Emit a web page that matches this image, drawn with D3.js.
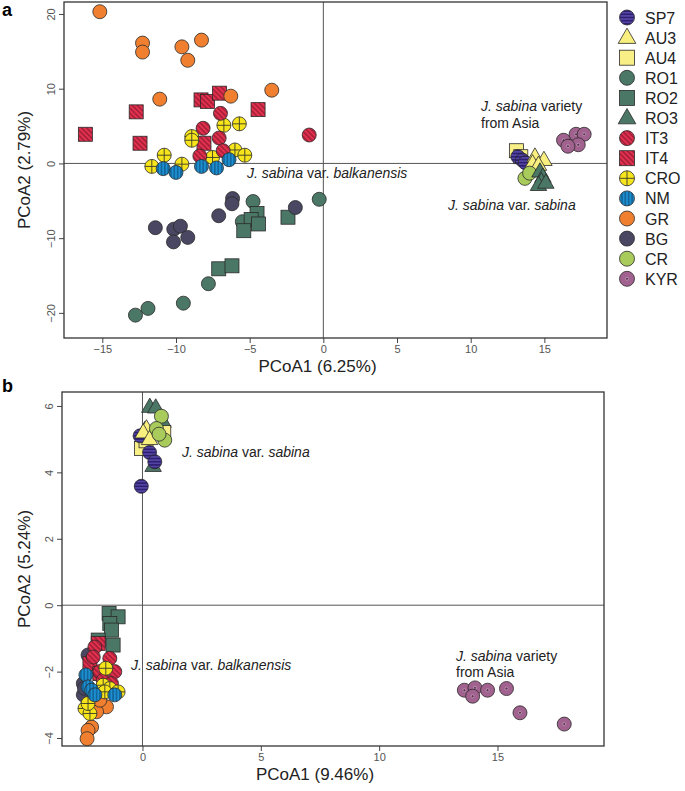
<!DOCTYPE html>
<html><head><meta charset="utf-8">
<script src="https://cdn.jsdelivr.net/npm/d3@7"></script>
<style>body{margin:0;background:#fff}svg{display:block}</style>
</head><body><svg id="c" width="685" height="791"></svg>
<script>
const groups = ["SP7","AU3","AU4","RO1","RO2","RO3","IT3","IT4","CRO","NM","GR","BG","CR","KYR"];
const shapes = ["circle","triangle","square","circle","square","triangle","circle","square","circle","circle","circle","circle","circle","circle"];
const fills  = ["#2e1f73","#f8ef7e","#f8ef86","#4b7767","#4b7767","#4b7767","#e3324c","#e3324c","#f7e51c","#1d8fd0","#f08030","#4a4763","#a9cb5b","#a2628f"];
const motifs = ["hstripe","","","","","","diag","diag","cross","vstripe","","","","dot"];

const xTicksA = [-15,-10,-5,0,5,10,15];
const yTicksA = [-20,-10,0,10,20];
const xTicksB = [0,5,10,15];
const yTicksB = [-4,-2,0,2,4,6];
const titlesA = ["PCoA1 (6.25%)","PCoA2 (2.79%)"];
const titlesB = ["PCoA1 (9.46%)","PCoA2 (5.24%)"];

// panel a points [group, PCoA1, PCoA2]
const pointsA = [
 ["RO1",-4.77,-5.1],["RO1",-0.28,-4.8],["RO1",-5.5,-7.8],["RO1",-7.8,-16.1],["RO1",-9.5,-18.7],["RO1",-11.9,-19.4],["RO1",-12.75,-20.3],
 ["RO2",-4.5,-6.7],["RO2",-4.9,-7.5],["RO2",-4.4,-8.1],["RO2",-5.4,-9.0],["RO2",-2.4,-7.2],["RO2",-7.1,-14.1],["RO2",-6.2,-13.7],
 ["BG",-6.16,-4.7],["BG",-6.2,-5.4],["BG",-7.1,-7.0],["BG",-1.9,-5.9],["BG",-11.4,-8.6],["BG",-10.15,-8.8],["BG",-9.7,-8.4],["BG",-10.17,-10.5],["BG",-9.2,-9.9],
 ["IT4",-16.15,3.9],["IT4",-12.7,6.9],["IT4",-12.44,2.7],["IT4",-8.3,8.5],["IT4",-7.86,8.3],["IT4",-7.05,9.4],["IT4",-4.43,7.2],["IT4",-8.1,2.7],
 ["GR",-15.17,20.3],["GR",-12.27,16.1],["GR",-12.27,14.9],["GR",-9.6,15.6],["GR",-9.2,13.8],["GR",-8.27,16.5],["GR",-11.1,8.6],["GR",-6.28,9.0],["GR",-3.5,9.8],
 ["CRO",-6.75,5.1],["CRO",-5.7,5.3],["CRO",-8.93,3.6],["CRO",-8.93,3.1],["CRO",-10.8,1.1],["CRO",-6.0,1.8],["CRO",-5.33,1.1],["CRO",-7.52,0.8],["CRO",-11.64,-0.4],["CRO",-9.6,-0.1],
 ["IT3",-6.98,6.7],["IT3",-8.16,4.7],["IT3",-7.07,3.4],["IT3",-8.38,1.0],["IT3",-6.8,1.7],["IT3",-0.96,3.8],
 ["NM",-10.87,-0.7],["NM",-10.0,-1.2],["NM",-8.27,-0.4],["NM",-7.25,-0.6],["NM",-6.4,0.5],
 ["AU4",13.1,1.7],["AU4",13.4,0.9],
 ["SP7",13.2,0.9],["SP7",13.5,0.45],["SP7",13.7,0.1],
 ["AU3",14.36,0.9],["AU3",14.97,0.45],["AU3",14.2,0.0],["AU3",14.6,-0.2],
 ["CR",13.68,-2.0],["CR",14.0,-1.3],
 ["RO3",14.7,-1.1],["RO3",14.9,-1.8],["RO3",14.8,-2.4],["RO3",14.6,-2.9],["RO3",15.1,-2.6],
 ["KYR",16.3,3.1],["KYR",17.15,3.9],["KYR",17.7,3.9],["KYR",17.3,2.5],["KYR",16.6,2.3]
];

// panel b points [group, PCoA1, PCoA2]
const pointsB = [
 ["RO3",0.31,5.97],["RO3",0.56,5.95],["RO3",0.45,4.19],["RO3",0.87,5.52],["RO3",0.1,5.27],
 ["AU4",-0.04,4.72],["AU4",0.15,4.95],["AU4",0.9,5.2],
 ["SP7",-0.1,5.1],["SP7",0.3,4.6],["SP7",0.52,4.32],["SP7",-0.05,3.58],
 ["AU3",0.17,5.32],["AU3",0.03,5.2],["AU3",0.3,5.0],
 ["CR",0.8,5.69],["CR",0.59,5.32],["CR",0.94,4.97],["CR",0.7,5.15],
 ["BG",-2.3,-1.5],["BG",-2.5,-2.36],["BG",-2.5,-2.7],["BG",-2.45,-2.5],
 ["RO2",-1.41,-0.25],["RO2",-1.03,-0.35],["RO2",-1.38,-0.55],["RO2",-1.31,-0.75],["RO2",-1.87,-1.05],["RO2",-1.24,-1.2],
 ["IT4",-1.87,-1.15],["IT4",-2.22,-1.76],["IT4",-1.8,-2.06],
 ["IT3",-2.01,-1.26],["IT3",-1.38,-1.6],["IT3",-1.17,-2.0],["IT3",-1.8,-2.0],["IT3",-1.66,-2.26],["IT3",-1.31,-2.36],["IT3",-2.08,-1.56],
 ["GR",-1.52,-3.06],["GR",-1.94,-3.21],["GR",-1.8,-2.86],["GR",-2.15,-3.67],["GR",-2.3,-3.77],["GR",-2.34,-4.02],
 ["CRO",-1.55,-1.9],["CRO",-1.66,-2.41],["CRO",-1.38,-2.51],["CRO",-1.03,-2.61],["CRO",-2.43,-3.11],["CRO",-2.22,-3.26],["CRO",-2.3,-2.96],["CRO",-1.59,-2.61],
 ["NM",-2.39,-2.1],["NM",-2.3,-2.46],["NM",-2.15,-2.56],["NM",-2.01,-2.7],["NM",-1.17,-2.7],
 ["KYR",13.6,-2.56],["KYR",14.05,-2.49],["KYR",13.95,-2.74],["KYR",14.58,-2.56],["KYR",15.38,-2.51],["KYR",15.95,-3.24],["KYR",17.82,-3.58]
];

const svg = d3.select("#c");
const defs = svg.append("defs");
function stripePattern(id, bg, fg, angle, size){
  const p = defs.append("pattern").attr("id", id).attr("patternUnits","userSpaceOnUse")
    .attr("width", size).attr("height", size).attr("patternTransform", `rotate(${angle})`);
  p.append("rect").attr("width", size).attr("height", size).attr("fill", bg);
  p.append("line").attr("x1", size/2).attr("x2", size/2).attr("y1", 0).attr("y2", size)
    .attr("stroke", fg).attr("stroke-width", 1);
}
stripePattern("p-hstripe", fills[0], "#6a5cc0", 90, 3.2);
stripePattern("p-diag", fills[6], "#7e1030", -45, 3.6);
stripePattern("p-vstripe", fills[9], "#0c4a78", 0, 3.4);

function fillOf(g){
  const i = groups.indexOf(g);
  const m = motifs[i];
  if (m === "hstripe" || m === "diag" || m === "vstripe") return `url(#p-${m})`;
  return fills[i];
}

function drawSymbol(sel, g, x, y, r){
  const i = groups.indexOf(g);
  const shape = shapes[i];
  const grp = sel.append("g").attr("transform", `translate(${x},${y})`);
  const stroke = "#2a2a2a", sw = 0.8;
  if (shape === "circle"){
    grp.append("circle").attr("r", r).attr("fill", fillOf(g)).attr("stroke", stroke).attr("stroke-width", sw);
  } else if (shape === "square"){
    const s = r*2;
    grp.append("rect").attr("x", -s/2).attr("y", -s/2).attr("width", s).attr("height", s)
      .attr("fill", fillOf(g)).attr("stroke", stroke).attr("stroke-width", sw);
  } else {
    const s = r*2.35, h = s*Math.sqrt(3)/2;
    grp.append("path").attr("d", `M0,${-h*0.62}L${s/2},${h*0.38}L${-s/2},${h*0.38}Z`)
      .attr("fill", fillOf(g)).attr("stroke", stroke).attr("stroke-width", sw);
  }
  if (motifs[i] === "cross"){
    grp.append("line").attr("x1", -r).attr("x2", r).attr("stroke", "#3a3a2a").attr("stroke-width", 0.9);
    grp.append("line").attr("y1", -r).attr("y2", r).attr("stroke", "#3a3a2a").attr("stroke-width", 0.9);
  }
  if (motifs[i] === "dot"){
    grp.append("circle").attr("r", 1.5).attr("fill", "#5a3050").attr("stroke", "#d8b8d0").attr("stroke-width", 0.6);
  }
}

function panel(cfg){
  const {box, xDom, yDom, xTicks, yTicks, pts, titles} = cfg;
  const x = d3.scaleLinear().domain(xDom).range([box.l, box.r]);
  const y = d3.scaleLinear().domain(yDom).range([box.b, box.t]);
  const g = svg.append("g");
  // zero lines
  g.append("line").attr("x1", x(0)).attr("x2", x(0)).attr("y1", box.t).attr("y2", box.b)
    .attr("stroke", "#555").attr("stroke-width", 1);
  g.append("line").attr("x1", box.l).attr("x2", box.r).attr("y1", y(0)).attr("y2", y(0))
    .attr("stroke", "#555").attr("stroke-width", 1);
  // axes
  const xa = g.append("g").attr("transform", `translate(0,${box.b})`)
    .call(d3.axisBottom(x).tickValues(xTicks).tickSize(5).tickSizeOuter(0).tickFormat(d3.format("d")));
  const ya = g.append("g").attr("transform", `translate(${box.l},0)`)
    .call(d3.axisLeft(y).tickValues(yTicks).tickSize(5).tickSizeOuter(0).tickFormat(d3.format("d")));
  [xa, ya].forEach(a => {
    a.select(".domain").remove();
    a.selectAll("line").attr("stroke", "#444");
    a.selectAll("text").attr("fill", "#555").style("font-family", "'Liberation Sans Narrow','Liberation Sans',Arial,sans-serif").style("font-size", "11px");
  });
  xa.selectAll("text").attr("dy", "0.9em").attr("y", 5);
  ya.selectAll("text").attr("x", null).attr("dy", null)
    .attr("text-anchor", "middle")
    .attr("transform", function(d){ return `translate(-9,0) rotate(-90)`; })
    .attr("x", 0).attr("y", 0);
  // box
  g.append("rect").attr("x", box.l).attr("y", box.t).attr("width", box.r - box.l).attr("height", box.b - box.t)
    .attr("fill", "none").attr("stroke", "#333").attr("stroke-width", 1.3);
  // points
  const pg = g.append("g");
  pts.forEach(p => drawSymbol(pg, p[0], x(p[1]), y(p[2]), 7));
  // titles
  g.append("text").attr("x", (box.l + box.r)/2 - 18).attr("y", box.b + 34).attr("text-anchor", "middle")
    .style("font-family", "'Liberation Sans',Arial,sans-serif").style("font-size", "17px").attr("fill", "#222").text(titles[0]);
  g.append("text").attr("transform", `translate(30,${(box.t + box.b)/2}) rotate(-90)`).attr("text-anchor", "middle")
    .style("font-family", "'Liberation Sans',Arial,sans-serif").style("font-size", "17px").attr("fill", "#222").text(titles[1]);
  return {x, y, g};
}

const A = panel({box:{l:64, r:607, t:2, b:338}, xDom:[-17.6, 19.25], yDom:[-23.36, 21.6],
  xTicks:xTicksA, yTicks:yTicksA, pts:pointsA, titles:titlesA});
const B = panel({box:{l:62, r:604, t:392, b:746}, xDom:[-3.4, 19.5], yDom:[-4.24, 6.42],
  xTicks:xTicksB, yTicks:yTicksB, pts:pointsB, titles:titlesB});

// annotations
function label(x, y, parts){
  const t = svg.append("text").attr("x", x).attr("y", y)
    .style("font-family", "'Liberation Sans',Arial,sans-serif").style("font-size", "14px").attr("fill", "#222");
  parts.forEach(p => t.append("tspan").style("font-style", p[1] ? "italic" : "normal").text(p[0]));
}
label(247, 178, [["J. sabina",1],[" var. ",0],["balkanensis",1]]);
label(448, 210, [["J. sabina",1],[" var. ",0],["sabina",1]]);
label(481, 111, [["J. sabina",1],[" variety",0]]);
label(481, 128, [["from Asia",0]]);
label(182, 457, [["J. sabina",1],[" var. ",0],["sabina",1]]);
label(131, 670, [["J. sabina",1],[" var. ",0],["balkanensis",1]]);
label(456, 661, [["J. sabina",1],[" variety",0]]);
label(456, 677, [["from Asia",0]]);

// panel letters
svg.append("text").attr("x", 2).attr("y", 16).style("font-family", "'Liberation Sans',Arial,sans-serif")
  .style("font-size", "18px").style("font-weight", "bold").text("a");
svg.append("text").attr("x", 2).attr("y", 392).style("font-family", "'Liberation Sans',Arial,sans-serif")
  .style("font-size", "18px").style("font-weight", "bold").text("b");

// legend
const leg = svg.append("g");
groups.forEach((g, i) => {
  const cy = 17.5 + i * 20.1;
  drawSymbol(leg, g, 627, cy, 7.5);
  leg.append("text").attr("x", 645).attr("y", cy + 6).style("font-family", "'Liberation Sans',Arial,sans-serif")
    .style("font-size", "16px").attr("fill", "#222").text(g);
});
</script>
</body></html>
